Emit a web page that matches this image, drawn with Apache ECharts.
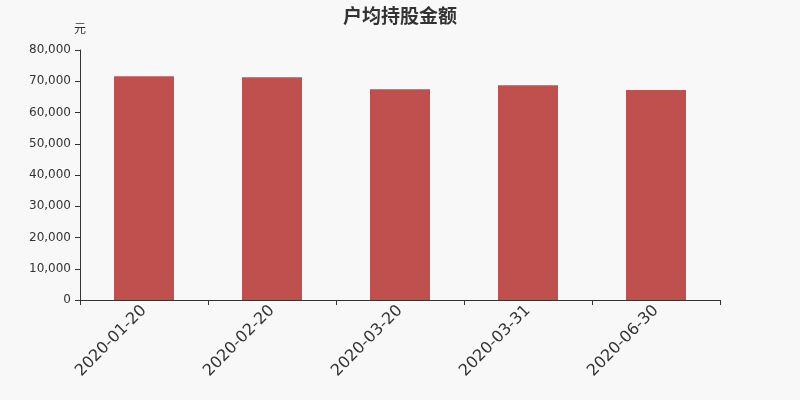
<!DOCTYPE html>
<html><head><meta charset="utf-8">
<script src="https://cdn.jsdelivr.net/npm/echarts@6/dist/echarts.min.js"></script>
<style>html,body{margin:0;padding:0;background:#f8f8f8}#c{width:800px;height:400px}</style>
</head><body><div id="c"></div>
<script>
const categories = ['2020-01-20','2020-02-20','2020-03-20','2020-03-31','2020-06-30'];
const values = [71580, 71260, 67420, 68700, 67200];
const chart = echarts.init(document.getElementById('c'));
chart.setOption({
  backgroundColor: '#f8f8f8',
  animation: false,
  textStyle: { fontFamily: 'DejaVu Sans' },
  title: { text: '户均持股金额', left: 'center', top: 1, textStyle: { fontSize: 19, fontWeight: 'bold', color: '#333', fontFamily: 'Noto Sans CJK SC' } },
  grid: { left: 80, right: 80, top: 50, bottom: 100 },
  xAxis: {
    type: 'category', data: categories,
    axisLine: { lineStyle: { color: '#333' } },
    axisTick: { show: true, lineStyle: { color: '#333' } },
    axisLabel: { rotate: 45, fontSize: 16, color: '#333', margin: 8, fontFamily: 'DejaVu Sans' }
  },
  yAxis: {
    type: 'value', min: 0, max: 80000, interval: 10000, name: '元',
    nameTextStyle: { color: '#333', fontSize: 12, align: 'center', fontFamily: 'Noto Sans CJK SC' },
    nameGap: 16,
    axisLine: { show: true, lineStyle: { color: '#333' } },
    axisTick: { show: true, lineStyle: { color: '#333' } },
    splitLine: { show: false },
    axisLabel: { color: '#333', fontSize: 12, margin: 9, fontFamily: 'DejaVu Sans', formatter: v => v.toLocaleString('en-US') }
  },
  series: [{ type: 'bar', data: values, barWidth: 60, itemStyle: { color: '#c0504d' } }]
});
</script></body></html>
